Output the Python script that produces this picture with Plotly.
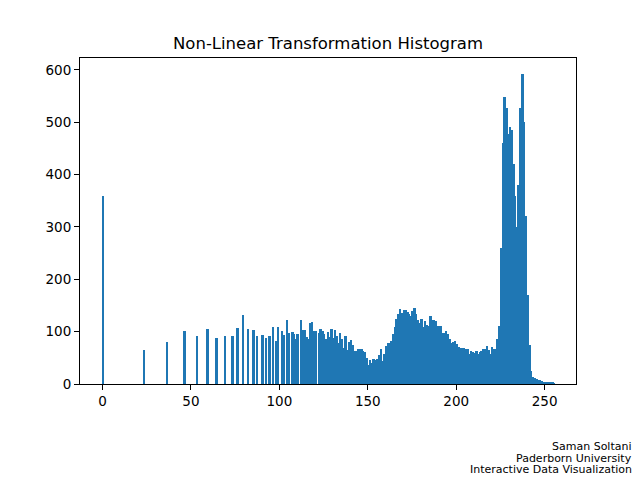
import plotly.graph_objects as go

# sparse part of the histogram (low intensities, isolated bars)
sparse_bins = [0, 23, 36, 46, 53, 59, 64, 69, 73, 76, 79, 82, 85, 87, 90, 92, 94,
               96, 98, 99, 101, 102, 104, 105, 107, 108, 109, 110, 112, 113, 114,
               115, 116, 117, 118, 119, 120]
sparse_counts = [360, 65, 80, 101, 91, 105, 88, 91, 91, 107, 131, 105, 103, 91, 93, 88, 91,
                 108, 82, 108, 101, 93, 122, 97, 99, 95, 86, 95, 122, 103, 103,
                 90, 86, 116, 118, 101, 101]

# dense part, one value per bin from 122 to 255
dense_start = 122
dense_counts = [
    98, 106, 101, 95, 86, 99, 90, 105, 87, 103,
    91, 79, 97, 85, 68, 91, 65, 81, 84, 74,
    63, 63, 67, 67, 67, 63, 61, 49, 36, 46,
    41, 48, 46, 47, 55, 67, 44, 58, 72, 78,
    78, 82, 95, 109, 124, 133, 144, 135, 141, 141,
    137, 133, 130, 139, 145, 133, 123, 116, 125, 108,
    120, 112, 110, 130, 123, 123, 120, 110, 110, 110,
    98, 98, 101, 95, 85, 79, 80, 82, 76, 70,
    69, 69, 69, 67, 67, 58, 63, 62, 60, 63,
    57, 62, 63, 67, 67, 73, 65, 58, 70, 66,
    66, 85, 110, 260, 460, 549, 527, 478, 491, 486,
    420, 360, 300, 380, 527, 592, 500, 320, 170, 74,
    25, 13, 11, 9, 8, 7, 5, 4, 3, 3,
    3, 3, 2, 1,
]

x_ticks = [0, 50, 100, 150, 200, 250]
y_ticks = [0, 100, 200, 300, 400, 500, 600]

title = "Non-Linear Transformation Histogram"
credit_lines = ["Saman Soltani", "Paderborn University", "Interactive Data Visualization"]

bins = sparse_bins + [dense_start + i for i in range(len(dense_counts))]
counts = sparse_counts + dense_counts

font = "DejaVu Sans, Liberation Sans, sans-serif"
blue = "#1f77b4"

# the page body adds an 8px margin, so the figure is 8px smaller and shifted
pad = 8
W, H = 640 - pad, 480 - pad
left, top = 80 - pad, 58 - pad
plot_w, plot_h = 496, 326

fig = go.Figure()
# bars slightly wider than a bin so neighbours overlap and no seams show
fig.add_trace(go.Bar(
    x=bins, y=counts, width=1.12, offset=-0.06,
    marker=dict(color=blue, line=dict(width=0)),
))

axis_style = dict(
    showline=True, linecolor="black", linewidth=1.1, mirror=True,
    ticks="outside", ticklen=5, tickwidth=1.1, tickcolor="black",
    showgrid=False, zeroline=False,
    tickfont=dict(family=font, size=13.5, color="black"),
)
fig.update_xaxes(range=[-12.75, 267.75], tickvals=x_ticks, **axis_style)
fig.update_yaxes(range=[0, 622.6], tickvals=y_ticks, **axis_style)

annotations = []
for i, line in enumerate(credit_lines):
    annotations.append(dict(
        text=line, xref="paper", yref="paper",
        x=(633 - 80) / plot_w, y=(384 - (446.5 + 11.5 * i)) / plot_h,
        xanchor="right", yanchor="middle", showarrow=False, borderpad=0,
        font=dict(family=font, size=11, color="black"),
    ))

fig.update_layout(
    width=W, height=H,
    margin=dict(l=left, r=W - left - plot_w, t=top, b=H - top - plot_h),
    paper_bgcolor="white", plot_bgcolor="white",
    showlegend=False, bargap=0,
    title=dict(text=title, x=0.5, xref="paper", xanchor="center",
               y=1 - (43 - pad) / H, yanchor="middle",
               font=dict(family=font, size=16.5, color="black")),
    annotations=annotations,
)

fig.write_html("out.html")
